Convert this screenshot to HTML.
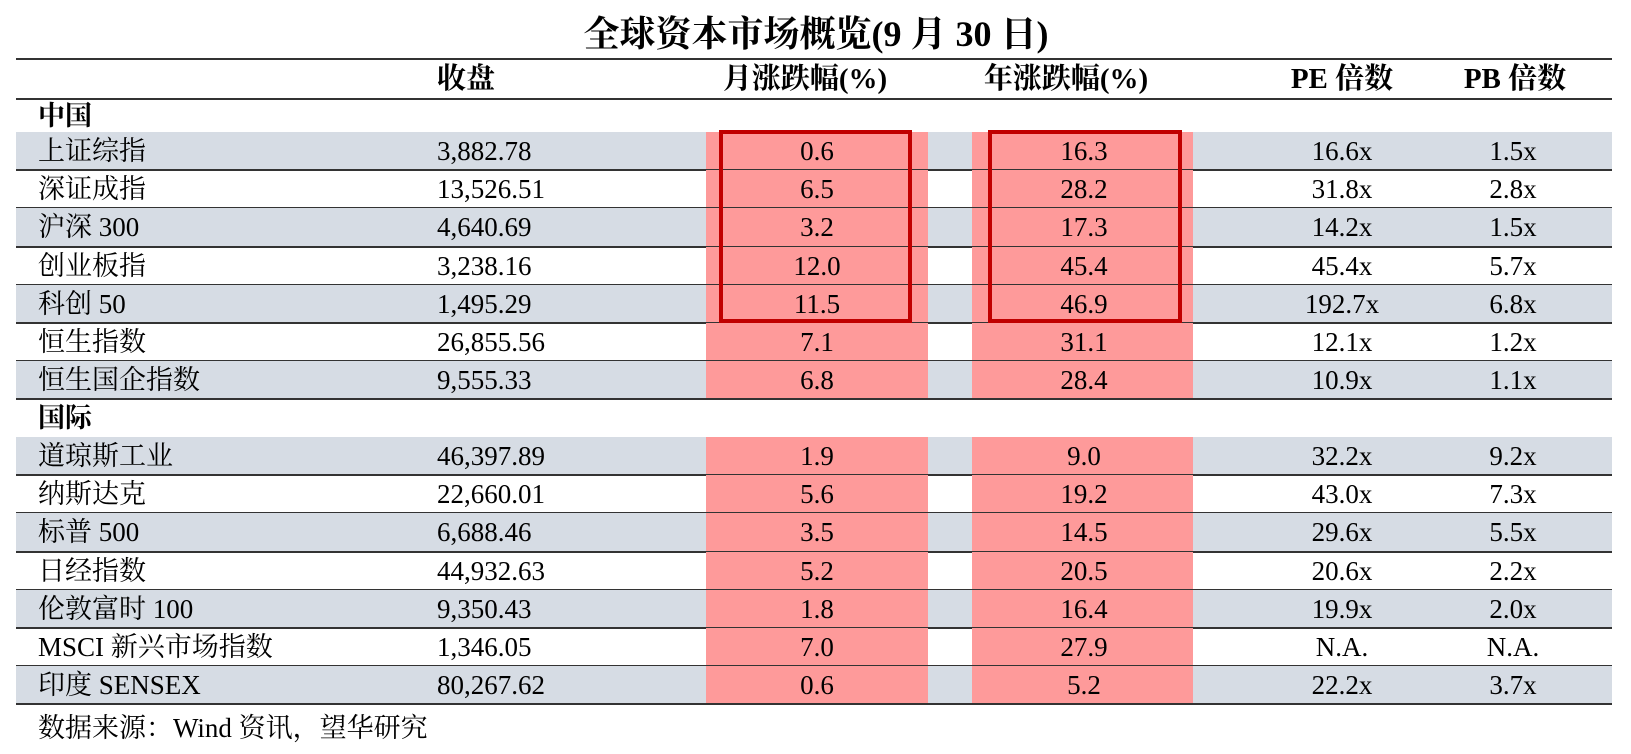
<!DOCTYPE html>
<html><head><meta charset="utf-8"><style>
body{margin:0;width:1631px;height:754px;background:#fff;position:relative;font-family:"Liberation Serif","Noto Serif CJK SC",serif;color:#000;overflow:hidden}
.a{position:absolute}
.t{font-size:36px;font-weight:bold;left:516px;width:600px;text-align:center;top:12px;white-space:nowrap;line-height:44px}
.row{position:absolute;left:16px;width:1596px;height:38px}
.g{background:#d6dce4}
.c{position:absolute;top:0;height:100%;font-size:27px;line-height:38px;white-space:nowrap}
.red{position:absolute;top:0;height:100%;background:#fe9a9a}
.ln{position:absolute;left:16px;width:1596px;height:2px;background:#333}
.box{position:absolute;border:4px solid #c00000;box-sizing:border-box}
.h{font-size:29px;font-weight:bold;position:absolute;top:61px;line-height:36px;white-space:nowrap}
</style></head><body>
<div class="a t">全球资本市场概览(9 月 30 日)</div>
<div class="ln" style="top:58px"></div>
<div class="h" style="left:437px">收盘</div>
<div class="h" style="left:705px;width:200px;text-align:center">月涨跌幅(%)</div>
<div class="h" style="left:966px;width:200px;text-align:center">年涨跌幅(%)</div>
<div class="h" style="left:1242px;width:200px;text-align:center">PE 倍数</div>
<div class="h" style="left:1415px;width:200px;text-align:center">PB 倍数</div>
<div class="ln" style="top:98px"></div>
<div id="rows"></div>
<script>
var d=[["中国"],["上证综指","3,882.78","0.6","16.3","16.6x","1.5x"],["深证成指","13,526.51","6.5","28.2","31.8x","2.8x"],["沪深 300","4,640.69","3.2","17.3","14.2x","1.5x"],["创业板指","3,238.16","12.0","45.4","45.4x","5.7x"],["科创 50","1,495.29","11.5","46.9","192.7x","6.8x"],["恒生指数","26,855.56","7.1","31.1","12.1x","1.2x"],["恒生国企指数","9,555.33","6.8","28.4","10.9x","1.1x"],["国际"],["道琼斯工业","46,397.89","1.9","9.0","32.2x","9.2x"],["纳斯达克","22,660.01","5.6","19.2","43.0x","7.3x"],["标普 500","6,688.46","3.5","14.5","29.6x","5.5x"],["日经指数","44,932.63","5.2","20.5","20.6x","2.2x"],["伦敦富时 100","9,350.43","1.8","16.4","19.9x","2.0x"],["MSCI 新兴市场指数","1,346.05","7.0","27.9","N.A.","N.A."],["印度 SENSEX","80,267.62","0.6","5.2","22.2x","3.7x"]];
var h="",y=[100,132,170,208,247,285,323,361,399,437,475,513,552,590,628,666,704],gi=0;
d.forEach(function(r,i){var top=y[i],ht=y[i+1]-y[i];
if(r.length==1){h+='<div class="row" style="top:'+top+'px;height:'+ht+'px"><div class="c" style="left:22px;font-weight:bold;line-height:'+ht+'px">'+r[0]+'</div></div>';gi=0;}
else{gi++;var g=gi%2==1?" g":"";
h+='<div class="row'+g+'" style="top:'+top+'px;height:'+ht+'px"><div class="red" style="left:690px;width:222px"></div><div class="red" style="left:956px;width:221px"></div>'+
'<div class="c" style="left:22px">'+r[0]+'</div><div class="c" style="left:421px">'+r[1]+'</div>'+
'<div class="c" style="left:701px;width:200px;text-align:center">'+r[2]+'</div><div class="c" style="left:968px;width:200px;text-align:center">'+r[3]+'</div>'+
'<div class="c" style="left:1226px;width:200px;text-align:center">'+r[4]+'</div><div class="c" style="left:1397px;width:200px;text-align:center">'+r[5]+'</div></div>';
h+='<div class="ln" style="top:'+(top+ht-1)+'px"></div>';}
});
document.getElementById("rows").innerHTML=h;
</script>
<div class="box" style="left:719px;top:130px;width:193px;height:193px"></div>
<div class="box" style="left:988px;top:130px;width:194px;height:193px"></div>
<div class="a" style="left:38px;top:711px;font-size:27px;line-height:34px;white-space:nowrap">数据来源：Wind 资讯，望华研究</div>
</body></html>
